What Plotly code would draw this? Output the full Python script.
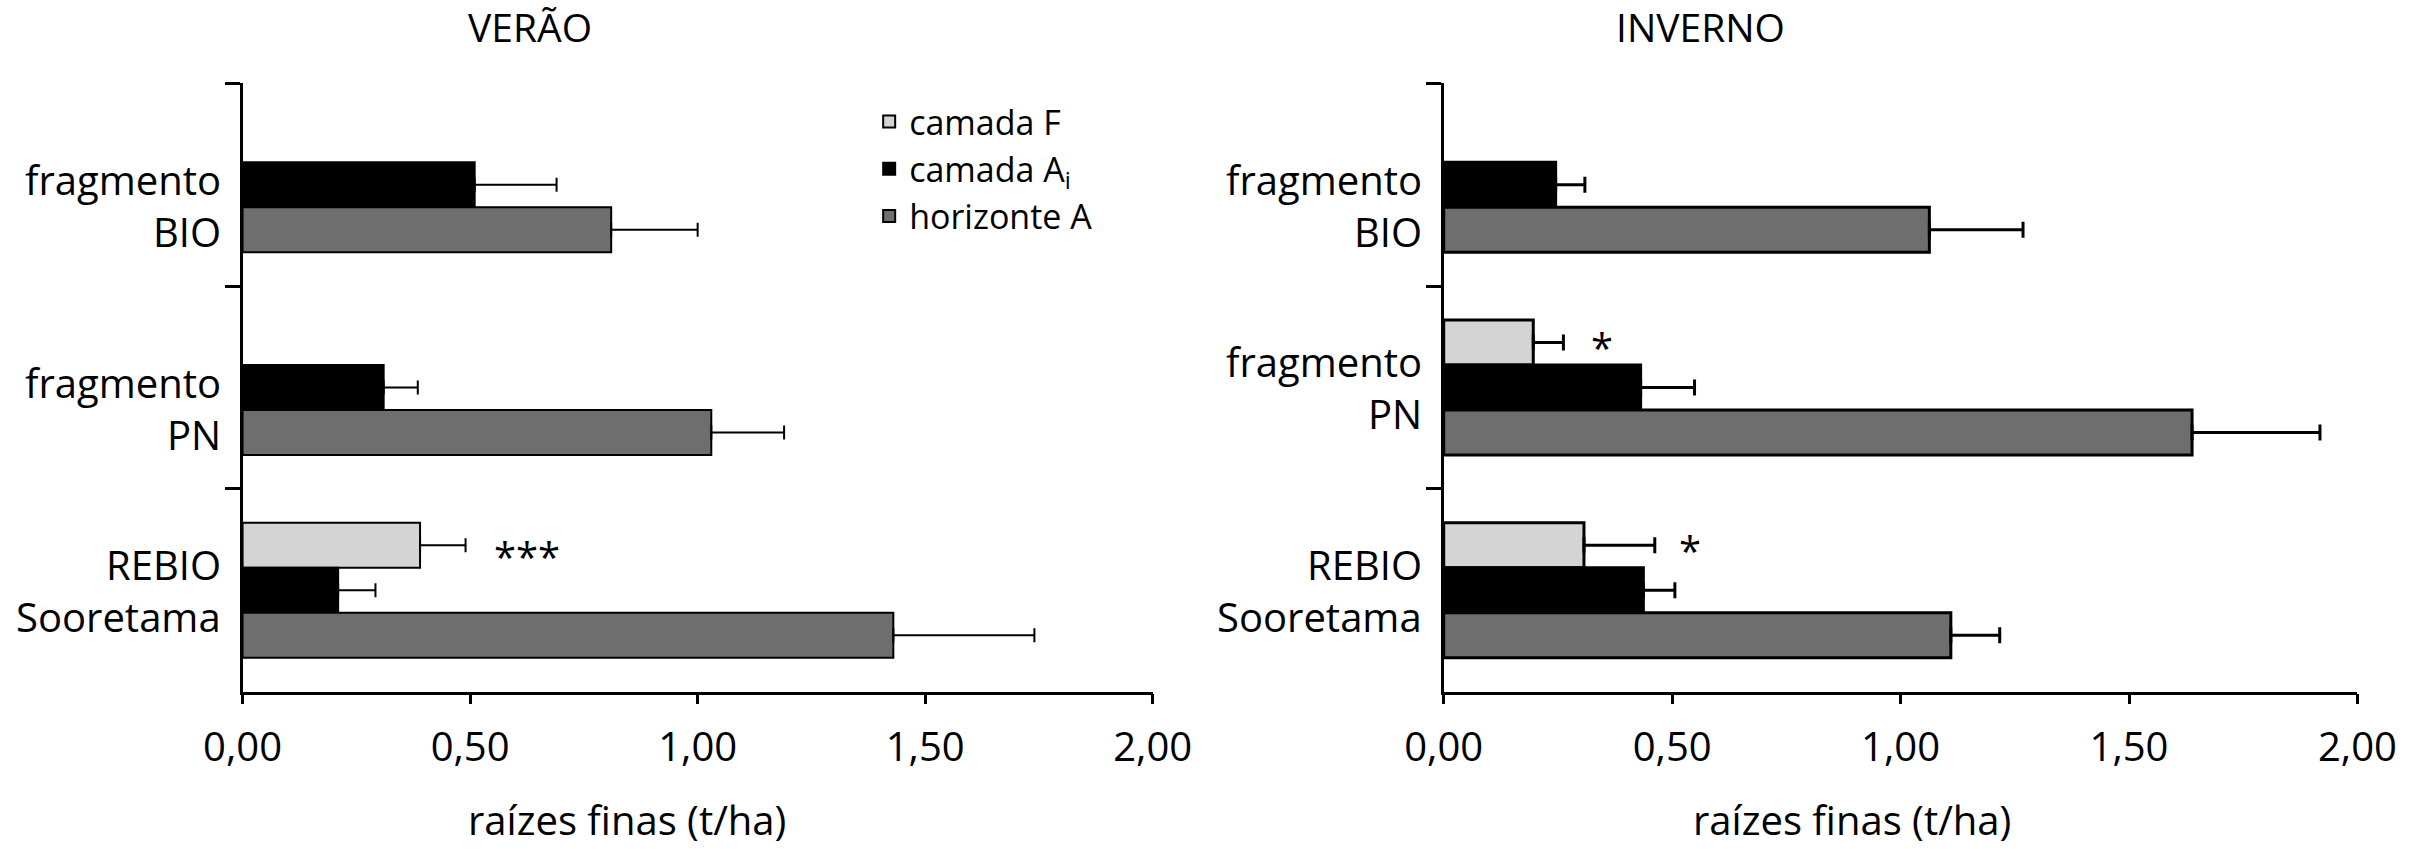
import plotly.graph_objects as go

# locais (categorias do eixo y)
locais = ["BIO", "PN", "REBIO"]
rotulos = [("fragmento", "BIO"), ("fragmento", "PN"), ("REBIO", "Sooretama")]

# camadas
camadas = ["camada F", "camada A<sub>i</sub>", "horizonte A"]
cores = ["#d4d4d4", "#000000", "#6e6e6e"]

# VERÃO - raízes finas (t/ha) e erro
verao_F = [None, None, 0.39]
verao_F_err = [None, None, 0.10]
verao_Ai = [0.51, 0.31, 0.21]
verao_Ai_err = [0.18, 0.075, 0.082]
verao_A = [0.81, 1.03, 1.43]
verao_A_err = [0.19, 0.16, 0.31]

# INVERNO
inverno_F = [None, 0.196, 0.307]
inverno_F_err = [None, 0.066, 0.155]
inverno_Ai = [0.245, 0.431, 0.437]
inverno_Ai_err = [0.064, 0.118, 0.069]
inverno_A = [1.063, 1.638, 1.110]
inverno_A_err = [0.205, 0.28, 0.107]

# asteriscos de significancia (local, x)
verao_sig = [("REBIO", 0.626, "***")]
inverno_sig = [("PN", 0.347, "*"), ("REBIO", 0.538, "*")]

FONT = "Open Sans"

fig = go.Figure()

verao = [(verao_F, verao_F_err), (verao_Ai, verao_Ai_err), (verao_A, verao_A_err)]
inverno = [(inverno_F, inverno_F_err), (inverno_Ai, inverno_Ai_err), (inverno_A, inverno_A_err)]

for i, (vals, errs) in enumerate(verao):
    fig.add_trace(go.Bar(
        y=locais, x=vals, orientation="h", name=camadas[i],
        marker=dict(color=cores[i], line=dict(color="black", width=2)),
        error_x=dict(type="data", array=errs, arrayminus=[0] * len(errs), symmetric=False,
                     color="black", thickness=2, width=7),
        xaxis="x", yaxis="y", showlegend=True,
    ))

for i, (vals, errs) in enumerate(inverno):
    fig.add_trace(go.Bar(
        y=locais, x=vals, orientation="h", name=camadas[i],
        marker=dict(color=cores[i], line=dict(color="black", width=3)),
        error_x=dict(type="data", array=errs, arrayminus=[0] * len(errs), symmetric=False,
                     color="black", thickness=3, width=8),
        xaxis="x2", yaxis="y2", showlegend=False,
    ))

xaxis_common = dict(
    range=[0, 2], tickvals=[0, 0.5, 1, 1.5, 2], tickformat=".2f",
    showline=True, linecolor="black", linewidth=2.5,
    ticks="outside", ticklen=10, tickwidth=2.5, tickcolor="black",
    ticklabelstandoff=9, automargin=False,
    showgrid=False, zeroline=False,
    tickfont=dict(family=FONT, size=40, color="black"),
)
yaxis_common = dict(
    type="category", categoryorder="array", categoryarray=locais,
    range=[2.5, -0.5], domain=[0.1853, 0.9019], automargin=False,
    showline=True, linecolor="black", linewidth=2.5,
    ticks="outside", ticklen=15, tickwidth=2.5, tickcolor="black",
    tickson="boundaries", showticklabels=False, showgrid=False, zeroline=False,
)

fig.update_layout(
    barmode="group", bargap=0.334, bargroupgap=0,
    separators=",.",
    width=2409, height=849,
    margin=dict(l=0, r=0, t=0, b=0, autoexpand=False),
    paper_bgcolor="white", plot_bgcolor="white",
    font=dict(family=FONT, color="black"),
    xaxis=dict(domain=[0.1007, 0.4785], anchor="y", **xaxis_common),
    xaxis2=dict(domain=[0.5993, 0.9786], anchor="y2", **xaxis_common),
    yaxis=dict(anchor="x", **yaxis_common),
    yaxis2=dict(anchor="x2", **yaxis_common),
    legend=dict(x=0.3608, y=0.8905, xanchor="left", yanchor="top",
                traceorder="normal", tracegroupgap=0,
                font=dict(family=FONT, size=34, color="black"),
                bgcolor="rgba(0,0,0,0)"),
)

anotacoes = []
# titulos
for texto, xpos in [("VERÃO", 0.22), ("INVERNO", 0.7057)]:
    anotacoes.append(dict(text=texto, x=xpos, y=0.9682, xref="paper", yref="paper",
                          xanchor="center", yanchor="middle",
                          showarrow=False, font=dict(size=39)))
# titulos do eixo x
for xpos in [0.2603, 0.7688]:
    anotacoes.append(dict(text="raízes finas (t/ha)", x=xpos, y=0.0353, xref="paper", yref="paper",
                          xanchor="center", yanchor="middle",
                          showarrow=False, font=dict(size=40)))

# rotulos dos locais (duas linhas), centrados nas barras existentes
for eixo, serie_F in [("", verao_F), ("2", inverno_F)]:
    for loc, (l1, l2), f in zip(locais, rotulos, serie_F):
        base = 0 if f is not None else -21
        for txt, dy in [(l1, 26), (l2, -26)]:
            anotacoes.append(dict(text=txt, x=0, y=loc, xref="x%s domain" % eixo, yref="y" + eixo,
                                  xanchor="right", yanchor="middle", xshift=-20,
                                  yshift=base + dy, showarrow=False, font=dict(size=40)))

# asteriscos
for eixo, sig, ys in [("", verao_sig, 34), ("2", inverno_sig, 40)]:
    for loc, xv, txt in sig:
        anotacoes.append(dict(text=txt, x=xv, y=loc, xref="x" + eixo, yref="y" + eixo,
                              xanchor="center", yanchor="middle",
                              yshift=ys, showarrow=False, font=dict(size=40)))

fig.update_layout(annotations=anotacoes)

fig.write_html("out.html", config={"displayModeBar": False},
               post_script="document.body.style.margin='0px';")
